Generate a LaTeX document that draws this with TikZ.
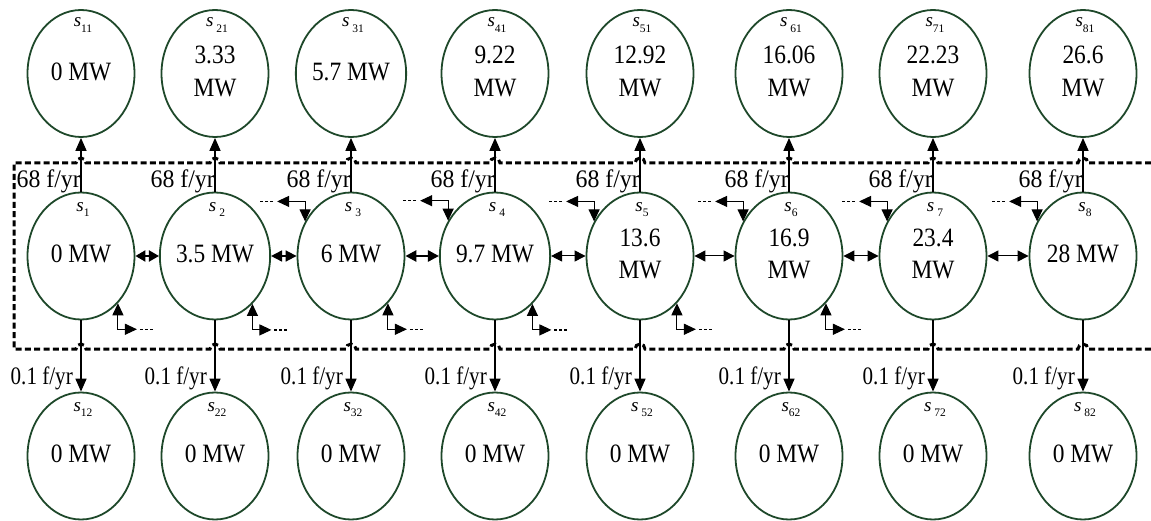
\documentclass[tikz,border=0pt]{standalone}
\usepackage{fontspec}
\setmainfont{Liberation Serif}
\usetikzlibrary{shapes.geometric,arrows.meta,calc}
\definecolor{nodegreen}{RGB}{30,72,42}
% state name: italic s with a lowered index; #1 = gap before the index
\newcommand\stname[2]{\fontsize{19}{19}\selectfont\textit{s}\hspace{#1}\raisebox{-5.5pt}{\fontsize{11.5}{11.5}\selectfont #2}}
% tall serif text used for the powers and rates
\newcommand\val[1]{\scalebox{1}[1.13]{\fontsize{23.4}{29}\selectfont\begin{tabular}{@{}c@{}}#1\end{tabular}}}
\newcommand\uprate[1]{\scalebox{1}[1.06]{\fontsize{23.8}{24}\selectfont #1}}
\newcommand\downrate[1]{\scalebox{1}[1.19]{\fontsize{21.1}{24}\selectfont #1}}

\begin{document}
\begin{tikzpicture}[x=1pt,y=-1pt,
  bus/.style={ellipse, draw=nodegreen, line width=1.8pt, minimum width=107pt,
    minimum height=127pt, inner sep=0pt},
  stlabel/.style={inner sep=0pt},
  rate/.style={inner sep=0pt, anchor=base east},
  flow/.style={line width=1.5pt, -{Triangle[length=13pt,width=11pt]}},
  link/.style={line width=#1, {Triangle[length=11pt,width=11pt]}-{Triangle[length=11pt,width=11pt]}},
  elbow/.style={line width=1.1pt, {Triangle[length=12pt,width=11pt]}-{Triangle[length=12pt,width=11pt]}},
  dots/.style={line width=1.4pt, dash pattern=on 2.8pt off 2.2pt},
  boundary/.style={line width=3pt, dash pattern=on 6pt off 3.3pt}
]
\useasboundingbox (0,0) rectangle (1151,521);

% upper row of states
\node[bus] (t1) at (81,73.5)   {\val{0 MW}};
\node[bus] (t2) at (215,73.5)  {\val{3.33\\MW}};
\node[bus] (t3) at (351,73.5)  {\val{5.7 MW}};
\node[bus] (t4) at (495,73.5)  {\val{9.22\\MW}};
\node[bus] (t5) at (640,73.5)  {\val{12.92\\MW}};
\node[bus] (t6) at (789,73.5)  {\val{16.06\\MW}};
\node[bus] (t7) at (933,73.5)  {\val{22.23\\MW}};
\node[bus] (t8) at (1083,73.5) {\val{26.6\\MW}};

% middle row of states
\node[bus] (m1) at (81,256)   {\val{0 MW}};
\node[bus] (m2) at (215,256)  {\val{3.5 MW}};
\node[bus] (m3) at (351,256)  {\val{6 MW}};
\node[bus] (m4) at (495,256)  {\val{9.7 MW}};
\node[bus] (m5) at (640,256)  {\val{13.6\\MW}};
\node[bus] (m6) at (789,256)  {\val{16.9\\MW}};
\node[bus] (m7) at (933,256)  {\val{23.4\\MW}};
\node[bus] (m8) at (1083,256) {\val{28 MW}};

% lower row of states
\foreach \i/\x in {1/81,2/215,3/351,4/495,5/640,6/789,7/933,8/1083}
  \node[bus] (b\i) at (\x,456) {\val{0 MW}};

% state names
\foreach \i/\g in {1/0pt,2/3pt,3/3pt,4/0pt,5/0pt,6/3pt,7/0pt,8/0pt}
  \node[stlabel] at ($(t\i.north)+(2,16)$) {\stname{\g}{\i1}};
\foreach \i/\g in {1/0pt,2/3pt,3/3pt,4/3pt,5/0pt,6/0pt,7/3pt,8/0pt}
  \node[stlabel] at ($(m\i.north)+(2,18)$) {\stname{\g}{\i}};
\foreach \i/\g in {1/0pt,2/0pt,3/0pt,4/0pt,5/3pt,6/0pt,7/3pt,8/3pt}
  \node[stlabel] at ($(b\i.north)+(2,18)$) {\stname{\g}{\i2}};

% dashed boundary, hopping over the vertical transitions
\draw[boundary] (1151,163)
  \foreach \x in {1083,933,789,640,495,351,215,81} {
    -- (\x+5,163) arc[start angle=0, end angle=180, radius=5pt] }
  -- (14,163) -- (14,349)
  \foreach \x in {81,215,351,495,640,789,933,1083} {
    -- (\x-5,349) arc[start angle=180, end angle=0, radius=5pt] }
  -- (1151,349);

% vertical transitions with their rates
\foreach \i in {1,...,8} {
  \draw[flow] (m\i.north) -- (t\i.south);
  \draw[flow] (m\i.south) -- (b\i.north);
  \node[rate] at ($(m\i.north)+(0,-4)$) {\uprate{68 f/yr}};
  \node[rate] at ($(b\i.north)+(-8,-7)$) {\downrate{0.1 f/yr}};
}

% transitions between neighbouring states
\draw[link=2pt, {Triangle[length=10pt,width=11pt]}-{Triangle[length=10pt,width=11pt]}]
  (m1.east) -- (m2.west);
\draw[link=1.6pt] (m2.east) -- (m3.west);
\draw[link=2.6pt] (m3.east) -- (m4.west);
\draw[link=1pt]   (m4.east) -- (m5.west);
\draw[link=1pt]   (m5.east) -- (m6.west);
\draw[link=1pt]   (m6.east) -- (m7.west);
\draw[link=1pt]   (m7.east) -- (m8.west);

% entries from the preceding states (upper left)
\foreach \i in {3,...,8} {
  \coordinate (in\i) at ($(m\i.143)+(-28,-20)$);
  \draw[elbow] (in\i) -| (m\i.143);
  \draw[dots] ($(in\i)+(-4,0)$) -- ++(-14,0);
}

% exits to the following states (lower right)
\foreach \i in {1,...,6} {
  \coordinate (out\i) at ($(m\i.-52.5)+(19,26)$);
  \draw[elbow] (out\i) -| (m\i.-52.5);
  \draw[dots] ($(out\i)+(3,0)$) -- ++(13,0);
}
\end{tikzpicture}
\end{document}
